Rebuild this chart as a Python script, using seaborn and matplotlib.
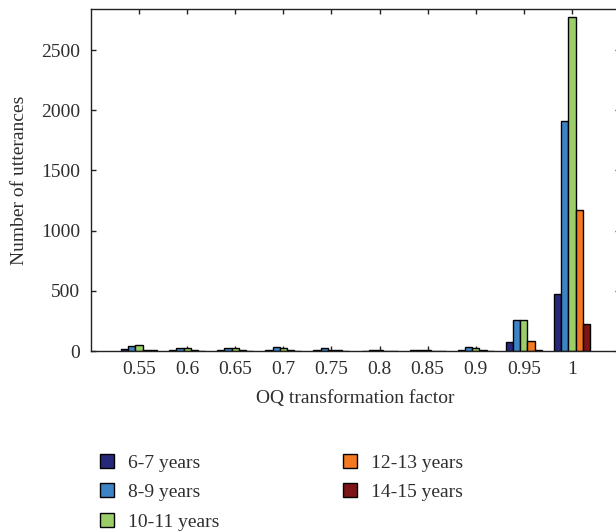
import numpy as np
import pandas as pd
import matplotlib
matplotlib.use("Agg")
import matplotlib.pyplot as plt
import seaborn as sns

# OQ transformation factors (x categories)
factors = ["0.55", "0.6", "0.65", "0.7", "0.75", "0.8", "0.85", "0.9", "0.95", "1"]

# Number of utterances per age group
age_groups = ["6-7 years", "8-9 years", "10-11 years", "12-13 years", "14-15 years"]
counts_6_7 = [15, 8, 8, 12, 5, 3, 5, 8, 77, 475]
counts_8_9 = [38, 25, 22, 35, 22, 8, 12, 35, 261, 1910]
counts_10_11 = [52, 28, 22, 28, 8, 12, 8, 28, 255, 2775]
counts_12_13 = [12, 10, 8, 10, 5, 4, 4, 8, 83, 1170]
counts_14_15 = [5, 3, 3, 3, 2, 2, 2, 3, 8, 225]

colors = ["#28287a", "#3d84c6", "#9bcd68", "#f47920", "#7d1416"]

series = [counts_6_7, counts_8_9, counts_10_11, counts_12_13, counts_14_15]
df = pd.DataFrame(
    [(f, g, v) for g, vals in zip(age_groups, series) for f, v in zip(factors, vals)],
    columns=["factor", "age", "count"],
)

sns.set_style("ticks")
plt.rcParams["font.family"] = ["Liberation Serif", "DejaVu Serif"]
text_color = "#2e2e2e"
fs = 14

fig = plt.figure(figsize=(6.16, 5.31), dpi=100)
ax = fig.add_axes([91 / 616, 1 - 351 / 531, 529 / 616, 342 / 531])

sns.barplot(
    data=df, x="factor", y="count", hue="age", order=factors, hue_order=age_groups,
    palette=colors, edgecolor="black", linewidth=1.0, width=0.75, saturation=1,
    ax=ax, legend=True,
)

ax.set_xlim(-1, 10)
ax.set_ylim(0, 2842)
ax.set_yticks([0, 500, 1000, 1500, 2000, 2500])

for side in ["left", "right", "top", "bottom"]:
    ax.spines[side].set_visible(True)
    ax.spines[side].set_color("#222222")
    ax.spines[side].set_linewidth(1.0)

ax.tick_params(axis="both", direction="in", length=3.6, width=1.0, color="#222222",
               top=True, right=True, labelsize=fs, labelcolor=text_color)
ax.tick_params(axis="x", pad=7)
ax.tick_params(axis="y", pad=8)

ax.set_xlabel("OQ transformation factor", fontsize=fs, color=text_color, labelpad=9)
ax.set_ylabel("Number of utterances", fontsize=fs, color=text_color, labelpad=9)

handles, labels = ax.get_legend_handles_labels()
ax.get_legend().remove()
fig.legend(
    handles, labels, ncol=2, loc="upper left", bbox_to_anchor=(100 / 616, 1 - 454 / 531),
    frameon=False, fontsize=fs, handlelength=0.72, handleheight=0.72,
    handletextpad=0.72, labelspacing=0.6, columnspacing=6.35, labelcolor=text_color,
    borderpad=0, borderaxespad=0,
)

fig.savefig("out.png", dpi=100)
